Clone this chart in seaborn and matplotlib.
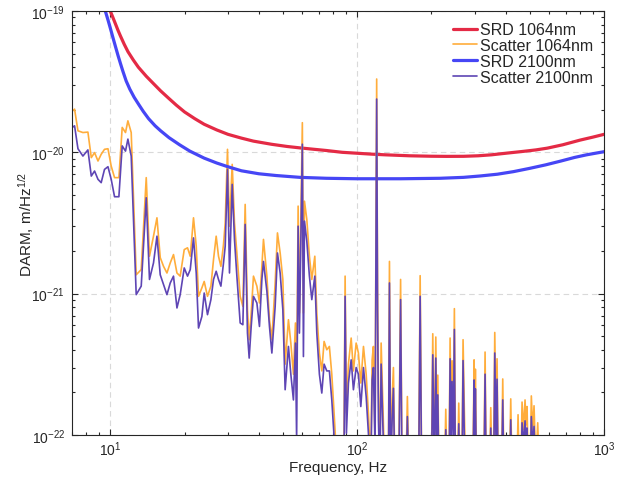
import numpy as np
import matplotlib
matplotlib.use("Agg")
import matplotlib.pyplot as plt
import seaborn as sns
from matplotlib.ticker import LogLocator, FixedLocator, NullFormatter

# Sensitivity design curves (SRD), strain-equivalent DARM in m/sqrt(Hz)
srd_1064_freq = [10.0, 10.25, 10.5, 10.75, 11.0, 11.4, 11.8, 12.4, 13, 14, 15, 16, 17.3,
                 18.5, 20, 22, 24, 27, 30, 34, 38, 45, 52, 58.6, 67, 75, 87, 100, 115,
                 130, 163, 200, 230, 270, 309, 350, 400, 470, 530, 589, 680, 800, 900, 1000]
srd_1064 = [1.0e-19, 9.0e-20, 8.1e-20, 7.3e-20, 6.65e-20, 5.8e-20, 5.15e-20, 4.5e-20,
            4.0e-20, 3.45e-20, 3.05e-20, 2.72e-20, 2.4e-20, 2.16e-20, 1.93e-20, 1.73e-20,
            1.58e-20, 1.44e-20, 1.34e-20, 1.26e-20, 1.2e-20, 1.14e-20, 1.1e-20, 1.075e-20,
            1.05e-20, 1.03e-20, 1.0e-20, 9.85e-21, 9.7e-21, 9.6e-21, 9.45e-21, 9.38e-21,
            9.36e-21, 9.37e-21, 9.45e-21, 9.6e-21, 9.85e-21, 1.015e-20, 1.04e-20, 1.07e-20,
            1.13e-20, 1.22e-20, 1.28e-20, 1.34e-20]

srd_2100_freq = [9.55, 9.8, 10.0, 10.25, 10.5, 10.75, 11.0, 11.25, 11.6, 12.0, 12.5, 13.0,
                 13.6, 14.3, 15.2, 16.0, 17.3, 19.1, 21, 24, 27, 30, 34, 40, 47, 58.6, 75,
                 100, 150, 217, 270, 315, 370, 430, 500, 580, 668, 760, 850, 1000]
srd_2100 = [1.0e-19, 8.6e-20, 7.6e-20, 6.5e-20, 5.6e-20, 4.85e-20, 4.25e-20, 3.75e-20,
            3.2e-20, 2.8e-20, 2.45e-20, 2.2e-20, 1.95e-20, 1.73e-20, 1.54e-20, 1.42e-20,
            1.27e-20, 1.13e-20, 1.02e-20, 9.1e-21, 8.4e-21, 7.9e-21, 7.4e-21, 7.05e-21,
            6.85e-21, 6.65e-21, 6.55e-21, 6.5e-21, 6.5e-21, 6.55e-21, 6.65e-21, 6.8e-21,
            7.0e-21, 7.3e-21, 7.7e-21, 8.15e-21, 8.67e-21, 9.2e-21, 9.6e-21, 1.01e-20]

# Scattered-light noise spectra, shared frequency bins
scatter_freq = [
    7.02, 7.17, 7.40, 7.75, 8.12, 8.38, 8.64, 8.92, 9.19, 9.48,
    9.79, 10.09, 10.41, 10.84, 11.18, 11.53, 11.79, 12.16, 12.74, 13.35,
    13.99, 14.42, 14.97, 15.46, 15.94, 16.44, 16.97, 17.50, 18.04, 18.63,
    19.20, 19.94, 20.56, 21.09, 21.74, 22.30, 22.78, 23.51, 24.02, 24.77,
    25.57, 26.20, 26.86, 27.45, 28.07, 28.76, 29.22, 29.85, 30.41, 31.19,
    31.86, 32.58, 33.60, 34.45, 35.20, 35.96, 36.54, 37.23, 38.03, 39.26,
    40.22, 41.13, 41.75, 43.10, 44.15, 45.15, 46.56, 47.57, 48.78, 50.02,
    51.10, 52.70, 53.89, 55.21, 56.25, 56.88, 57.68, 58.38, 60.0, 60.6,
    61.2, 62.55, 64.08, 65.53, 67.39, 68.66, 70.34, 71.93, 73.49, 75.36,
    77.21, 78.96, 80.67, 82.96, 86.1, 88.4, 89.4, 90.5, 92.2, 94.6,
    96.6, 99.1, 101.2, 103.5, 106.1, 108.8, 111.1, 113.6, 115.0, 116.4,
    118.2, 120.0, 121.0, 122.0, 123.6, 125.1, 127.1, 129.2, 133.9, 135.2,
    136.7, 138.6, 140.3, 142.1, 147.5, 150.0, 152.0, 157.9, 159.8, 161.8,
    177.5, 180.0, 182.5, 200.1, 202.5, 205.4, 208.3, 210.3, 212.2, 214.4,
    226.3, 228.6, 231.0, 235.8, 238.0, 240.2, 242.4, 245.2, 247.7, 250.2,
    255.4, 258.0, 260.7, 265.9, 268.6, 271.9, 274.7, 294.6, 297.7, 299.6,
    301.3, 304.4, 326.4, 329.8, 333.2, 344.2, 347.8, 351.4, 357.3, 361.0,
    365.1, 368.8, 372.6, 384.9, 388.9, 392.9, 414.7, 419.0, 423.3, 444.0,
    448.6, 453.2, 460.9, 465.6, 472.2, 478.8, 483.3, 487.8, 493.3, 502.6,
    507.7, 513.9, 520.7, 529.5, 538.9, 545.5, 1000.0]

scatter_1064 = [
    1.96e-20, 2.02e-20, 1.42e-20, 1.38e-20, 1.39e-20, 9.17e-21, 9.95e-21, 8.68e-21, 9.68e-21, 1.05e-20,
    1.06e-20, 7.99e-21, 6.62e-21, 6.62e-21, 1.50e-20, 1.38e-20, 1.67e-20, 1.38e-20, 1.36e-21, 1.48e-21,
    6.62e-21, 1.84e-21, 2.55e-21, 3.44e-21, 1.80e-21, 1.56e-21, 1.40e-21, 1.65e-21, 1.89e-21, 1.40e-21,
    1.33e-21, 2.05e-21, 2.11e-21, 1.84e-21, 3.44e-21, 2.17e-21, 9.57e-22, 1.10e-21, 1.22e-21, 9.57e-22,
    1.13e-21, 1.74e-21, 2.55e-21, 1.84e-21, 1.56e-21, 2.23e-21, 3.17e-21, 1.05e-20, 3.00e-21, 8.22e-21,
    3.17e-21, 1.94e-21, 9.57e-22, 8.13e-22, 4.28e-21, 7.70e-22, 4.72e-22, 7.30e-22, 1.33e-21, 1.13e-21,
    8.59e-22, 1.56e-21, 2.42e-21, 1.33e-21, 6.54e-22, 4.72e-22, 1.19e-21, 2.69e-21, 1.94e-21, 1.26e-21,
    3.17e-22, 6.54e-22, 4.47e-22, 2.69e-22, 6.20e-22, 2.09e-22, 4.16e-21, 7.30e-22, 1.62e-20, 7.30e-22,
    4.51e-21, 3.35e-21, 1.84e-21, 1.26e-21, 1.84e-21, 7.30e-22, 3.80e-22, 2.84e-22, 4.59e-22, 4.01e-22,
    4.23e-22, 2.69e-22, 1.43e-22, 6e-23, 6e-23, 6e-23, 1.33e-21, 1.43e-22, 3.17e-22, 4.85e-22,
    2.84e-22, 4.47e-22, 3.80e-22, 2.33e-22, 4.23e-22, 2.69e-22, 1.43e-22, 6e-23, 3.40e-22, 4.23e-22,
    9.2e-23, 3.30e-20, 1.07e-21, 1.98e-22, 6e-23, 4.47e-22, 1.68e-22, 6e-23, 6e-23, 1.69e-21,
    6e-23, 1.77e-22, 3.00e-22, 6e-23, 6e-23, 1.26e-21, 6e-23, 6e-23, 1.87e-22, 6e-23,
    6e-23, 1.34e-21, 6e-23, 6e-23, 5.20e-22, 6e-23, 4.93e-22, 9.2e-23, 2.65e-22, 6e-23,
    6e-23, 1.52e-22, 6e-23, 6e-23, 4.85e-22, 1.09e-22, 3.35e-22, 1.09e-22, 7.83e-22, 6e-23,
    6e-23, 1.68e-22, 6e-23, 6e-23, 4.72e-22, 1.44e-22, 6e-23, 6e-23, 3.40e-22, 1.28e-22,
    2.92e-22, 6e-23, 6e-23, 3.86e-22, 6e-23, 6e-23, 1.56e-22, 6e-23, 6e-23, 5.31e-22,
    1.28e-22, 3.46e-22, 6e-23, 6e-23, 2.49e-22, 6e-23, 6e-23, 1.80e-22, 6e-23, 6e-23,
    1.39e-22, 6e-23, 6e-23, 1.71e-22, 1.09e-22, 1.77e-22, 1.18e-22, 1.59e-22, 6e-23, 6e-23,
    1.89e-22, 1.09e-22, 1.61e-22, 6e-23, 1.22e-22, 6e-23, 6e-23]

scatter_2100 = [
    1.50e-20, 1.54e-20, 1.06e-20, 9.41e-21, 1.04e-20, 6.79e-21, 7.37e-21, 6.44e-21, 6.10e-21, 7.57e-21,
    7.91e-21, 6.44e-21, 4.85e-21, 4.85e-21, 1.11e-20, 1.02e-20, 1.24e-20, 9.41e-21, 9.84e-22, 1.13e-21,
    4.77e-21, 1.26e-21, 1.65e-21, 2.55e-21, 1.36e-21, 1.16e-21, 9.84e-22, 1.19e-21, 1.33e-21, 7.92e-22,
    9.84e-22, 1.52e-21, 1.33e-21, 1.48e-21, 2.48e-21, 1.40e-21, 5.71e-22, 6.90e-22, 1.01e-21, 7.10e-22,
    9.07e-22, 1.26e-21, 1.44e-21, 1.26e-21, 1.13e-21, 1.65e-21, 2.17e-21, 7.57e-21, 1.40e-21, 5.93e-21,
    2.42e-21, 1.33e-21, 6.20e-22, 6.03e-22, 3.09e-21, 5.26e-22, 3.50e-22, 5.86e-22, 9.57e-22, 8.59e-22,
    5.86e-22, 1.26e-21, 1.69e-21, 1.04e-21, 5.86e-22, 3.80e-22, 8.13e-22, 1.94e-21, 1.40e-21, 7.70e-22,
    2.09e-22, 4.23e-22, 2.69e-22, 1.77e-22, 4.47e-22, 9.2e-23, 3.00e-21, 5.26e-22, 1.14e-20, 3.59e-22,
    3.26e-21, 2.35e-21, 1.33e-21, 9.07e-22, 1.33e-21, 5.26e-22, 2.69e-22, 1.98e-22, 3.17e-22, 2.84e-22,
    2.84e-22, 1.77e-22, 9.7e-23, 5e-23, 5e-23, 5e-23, 9.57e-22, 1.03e-22, 2.33e-22, 3.40e-22,
    2.09e-22, 3.00e-22, 2.69e-22, 1.59e-22, 3.00e-22, 1.87e-22, 1.03e-22, 5e-23, 2.45e-22, 3.00e-22,
    7.8e-23, 2.38e-20, 7.70e-22, 1.28e-22, 5e-23, 3.17e-22, 1.18e-22, 5e-23, 5e-23, 1.19e-21,
    5e-23, 1.28e-22, 2.14e-22, 5e-23, 5e-23, 9.07e-22, 5e-23, 5e-23, 1.35e-22, 5e-23,
    5e-23, 9.57e-22, 5e-23, 5e-23, 3.69e-22, 5e-23, 3.50e-22, 7.8e-23, 1.92e-22, 5e-23,
    5e-23, 1.09e-22, 5e-23, 5e-23, 3.46e-22, 9.2e-23, 2.39e-22, 8.5e-23, 5.58e-22, 5e-23,
    5e-23, 1.20e-22, 5e-23, 5e-23, 3.36e-22, 9.2e-23, 5e-23, 5e-23, 2.45e-22, 9.2e-23,
    2.12e-22, 5e-23, 5e-23, 2.69e-22, 5e-23, 5e-23, 1.12e-22, 5e-23, 5e-23, 3.80e-22,
    9.2e-23, 2.48e-22, 5e-23, 5e-23, 1.77e-22, 5e-23, 5e-23, 1.28e-22, 5e-23, 5e-23,
    9.2e-23, 5e-23, 5e-23, 1.22e-22, 8.5e-23, 1.26e-22, 9.2e-23, 1.12e-22, 5e-23, 5e-23,
    1.35e-22, 8.5e-23, 1.15e-22, 5e-23, 9.2e-23, 5e-23, 5e-23]

x_major_ticks = [10, 100, 1000]
y_major_ticks = [1e-22, 1e-21, 1e-20, 1e-19]

sns.set_style("ticks")
plt.rcParams["font.family"] = ["Liberation Sans", "DejaVu Sans"]
plt.rcParams["mathtext.fontset"] = "custom"
plt.rcParams["mathtext.rm"] = "Liberation Sans"
plt.rcParams["mathtext.it"] = "Liberation Sans:italic"
plt.rcParams["mathtext.default"] = "regular"

AX_COLOR = "#262626"

fig, ax = plt.subplots(figsize=(6.36, 4.81), dpi=100)
fig.subplots_adjust(left=0.1132, right=0.9497, bottom=0.0936, top=0.9751)

ax.set_xscale("log")
ax.set_yscale("log")

sns.lineplot(x=srd_1064_freq, y=srd_1064, ax=ax, color="#E42A45", lw=2.3,
             label="SRD 1064nm", estimator=None, sort=False)
sns.lineplot(x=scatter_freq, y=scatter_1064, ax=ax, color="#FFAD3B", lw=1.2,
             label="Scatter 1064nm", estimator=None, sort=False)
sns.lineplot(x=srd_2100_freq, y=srd_2100, ax=ax, color="#4646F5", lw=2.3,
             label="SRD 2100nm", estimator=None, sort=False)
sns.lineplot(x=scatter_freq, y=scatter_2100, ax=ax, color="#5E45B4", lw=1.2,
             label="Scatter 2100nm", estimator=None, sort=False)

ax.set_xlim(7, 1000)
ax.set_ylim(1e-22, 1e-19)

ax.xaxis.set_major_locator(FixedLocator(x_major_ticks))
ax.xaxis.set_minor_locator(LogLocator(base=10, subs=np.arange(2, 10), numticks=100))
ax.xaxis.set_minor_formatter(NullFormatter())
ax.yaxis.set_major_locator(FixedLocator(y_major_ticks))
ax.yaxis.set_minor_locator(LogLocator(base=10, subs=np.arange(2, 10), numticks=100))
ax.yaxis.set_minor_formatter(NullFormatter())
ax.xaxis.set_major_formatter(matplotlib.ticker.LogFormatterSciNotation())
ax.yaxis.set_major_formatter(matplotlib.ticker.LogFormatterSciNotation())

ax.set_axisbelow(True)
ax.grid(True, which="major", color="#d9d9d9", linestyle=(0, (5, 3.5)), lw=0.8)

ax.tick_params(which="both", direction="in", top=True, right=True,
               colors=AX_COLOR, labelsize=10, width=0.8)
ax.tick_params(which="major", length=4)
ax.tick_params(which="minor", length=2.2)
ax.tick_params(axis="x", which="major", pad=3.5)
ax.tick_params(axis="y", which="major", pad=5)
for s in ax.spines.values():
    s.set_color(AX_COLOR)
    s.set_linewidth(0.8)

ax.set_xlabel("Frequency, Hz", fontsize=11, color=AX_COLOR, labelpad=1)
ax.set_ylabel("DARM, m/Hz$^{1/2}$", fontsize=11, color=AX_COLOR, labelpad=-3)

ax.legend(loc="upper right", frameon=False, fontsize=11.5, handlelength=1.5,
          handletextpad=0.15, labelspacing=0.05, borderaxespad=0.3, borderpad=0.4)

fig.savefig("out.png", dpi=100)
